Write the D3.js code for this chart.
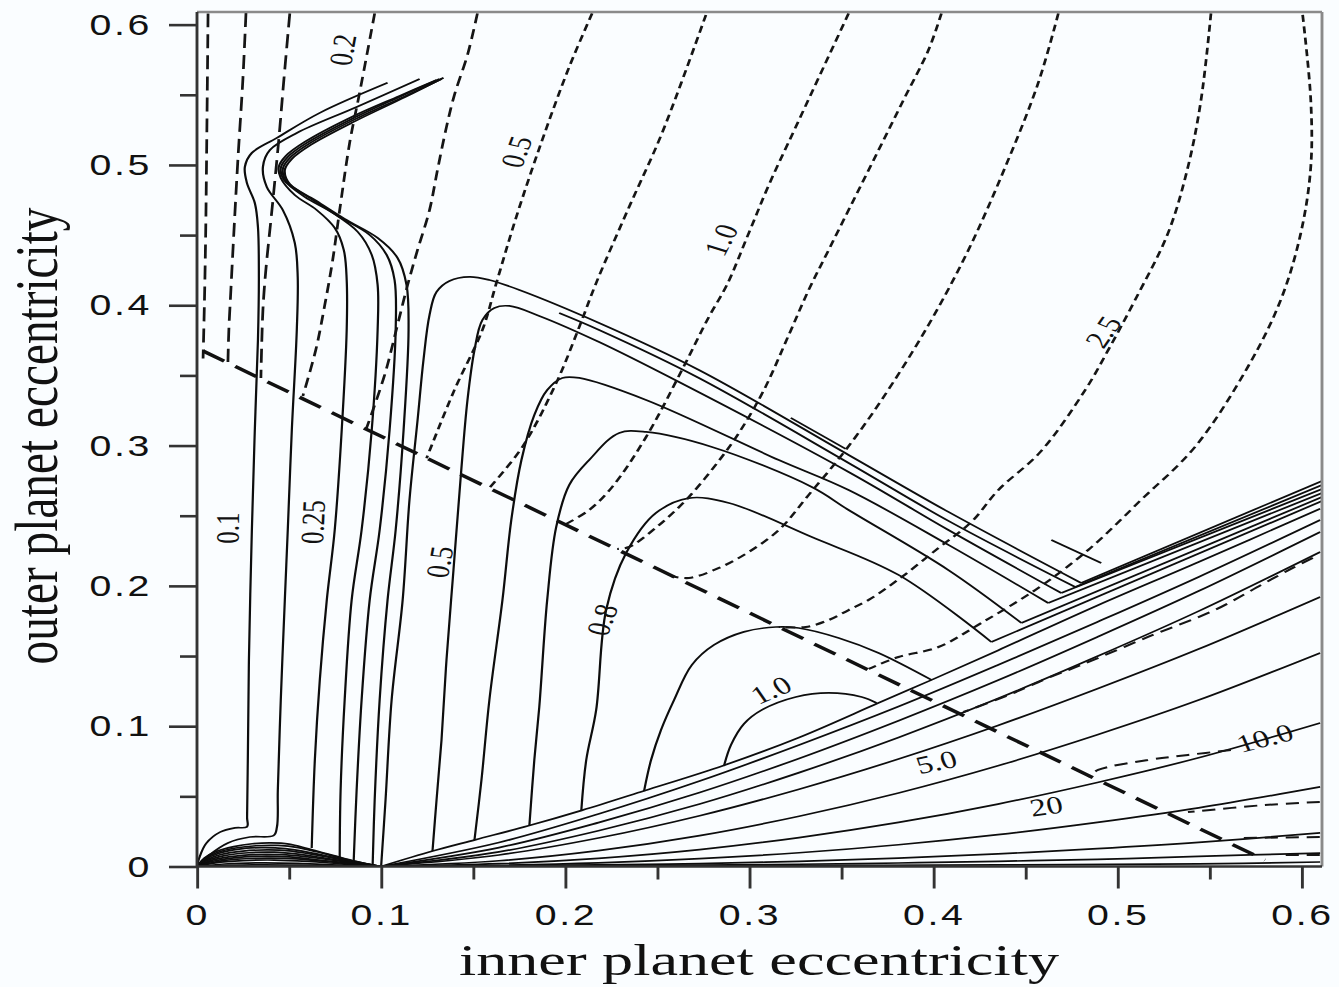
<!DOCTYPE html>
<html><head><meta charset="utf-8">
<script src="https://cdn.jsdelivr.net/npm/d3@7"></script>
<style>html,body{margin:0;padding:0;background:#fafdff;} svg{display:block;}</style>
</head><body><svg id="chart" width="1339" height="987"></svg>
<script>
// ---- axes ----
const xDomain = [0, 0.611];
const yDomain = [0, 0.609];
const xTicks = [0, 0.1, 0.2, 0.3, 0.4, 0.5, 0.6];
const xTickLabels = ["0", "0.1", "0.2", "0.3", "0.4", "0.5", "0.6"];
const xMinorTicks = [0.05, 0.15, 0.25, 0.35, 0.45, 0.55];
const yTicks = [0, 0.1, 0.2, 0.3, 0.4, 0.5, 0.6];
const yTickLabels = ["0", "0.1", "0.2", "0.3", "0.4", "0.5", "0.6"];
const yMinorTicks = [0.05, 0.15, 0.25, 0.35, 0.45, 0.55];
const xTitle = "inner planet eccentricity";
const yTitle = "outer planet eccentricity";

// ---- solid contours: hairpin family (left of e_in = 0.1) ----
const hairpinLines = [
  [[0.1035,0.5585],[0.0667,0.5371],[0.0434,0.5193],[0.0298,0.5086],[0.026,0.4986],[0.0271,0.4872],[0.0314,0.4729],[0.0331,0.4558],[0.0336,0.4202],[0.0331,0.3753],[0.0314,0.3111],[0.0298,0.2398],[0.0282,0.1472],[0.0276,0.0759],[0.0272,0.035],[0.0271,0.0282],[0.0206,0.0275],[0.0125,0.0245],[0.005,0.0165],[0.0012,0.006],[0,0]],
  [[0.1209,0.5613],[0.0867,0.5413],[0.0542,0.5228],[0.0396,0.5107],[0.0358,0.4986],[0.0379,0.4843],[0.0466,0.4679],[0.0531,0.4445],[0.0547,0.4202],[0.0542,0.3824],[0.0515,0.3111],[0.0493,0.2398],[0.0477,0.19],[0.0455,0.1187],[0.0439,0.0545],[0.0434,0.028],[0.0415,0.022],[0.0287,0.021],[0.0168,0.0168],[0.006,0.0075],[0,0]],
  [[0.1301,0.5606],[0.11,0.5492],[0.0829,0.5335],[0.0585,0.5164],[0.0482,0.5064],[0.0444,0.4986],[0.0455,0.4907],[0.0531,0.4786],[0.065,0.4679],[0.0748,0.4551],[0.0797,0.4395],[0.0813,0.418],[0.0813,0.3824],[0.0786,0.3111],[0.0748,0.2398],[0.0705,0.19],[0.0667,0.133],[0.064,0.0759],[0.0623,0.0132]],
  [[0.1317,0.5613],[0.1111,0.5492],[0.084,0.5328],[0.0596,0.5157],[0.0493,0.5057],[0.0455,0.4979],[0.0472,0.4893],[0.0585,0.4772],[0.0737,0.4658],[0.0873,0.4523],[0.0949,0.4359],[0.0981,0.4145],[0.0981,0.3824],[0.0949,0.3111],[0.0894,0.2398],[0.084,0.19],[0.0802,0.1187],[0.078,0.0545],[0.0775,0.0061]],
  [[0.1328,0.5613],[0.1122,0.5485],[0.0851,0.5321],[0.0607,0.515],[0.0504,0.505],[0.0466,0.4972],[0.0488,0.4879],[0.0612,0.4765],[0.0775,0.4629],[0.0938,0.4501],[0.103,0.4359],[0.1073,0.418],[0.1079,0.3824],[0.1046,0.3111],[0.0992,0.2398],[0.0938,0.19],[0.0894,0.1187],[0.0867,0.0545],[0.0851,0.0039]],
  [[0.1339,0.5621],[0.1133,0.5485],[0.0862,0.5314],[0.0618,0.5143],[0.0515,0.5043],[0.0477,0.4964],[0.0504,0.4864],[0.064,0.475],[0.0802,0.4615],[0.0981,0.448],[0.1089,0.4338],[0.1138,0.4145],[0.1149,0.3824],[0.1122,0.3111],[0.1079,0.2398],[0.1035,0.19],[0.0992,0.1187],[0.0965,0.0474],[0.0954,0.0011]]
];

// ---- solid contours: low bumps between the origin and e_in = 0.1 ----
const bumpLines = [
  [[0,0],[0.004,0.006],[0.01,0.0105],[0.02,0.0142],[0.03,0.0162],[0.04,0.0168],[0.05,0.016],[0.06,0.0128],[0.07,0.0092],[0.08,0.0057],[0.09,0.0024],[0.1,0]],
  [[0,0],[0.0045,0.0058],[0.011,0.01],[0.021,0.0132],[0.032,0.0148],[0.044,0.015],[0.055,0.0135],[0.065,0.0105],[0.075,0.0072],[0.085,0.0039],[0.1,0]],
  [[0,0],[0.005,0.0055],[0.012,0.0095],[0.022,0.0122],[0.035,0.0135],[0.048,0.0128],[0.06,0.0103],[0.07,0.0077],[0.08,0.0048],[0.09,0.002],[0.1,0]],
  [[0,0],[0.0055,0.005],[0.013,0.0086],[0.025,0.011],[0.038,0.0118],[0.05,0.0112],[0.062,0.0088],[0.074,0.006],[0.086,0.0032],[0.1,0]],
  [[0,0],[0.006,0.0045],[0.015,0.0078],[0.028,0.0098],[0.042,0.0102],[0.055,0.0088],[0.068,0.0063],[0.08,0.0038],[0.09,0.0017],[0.1,0]],
  [[0,0],[0.007,0.004],[0.018,0.007],[0.032,0.0085],[0.046,0.0084],[0.06,0.0068],[0.074,0.0045],[0.088,0.002],[0.1,0]],
  [[0,0],[0.008,0.0036],[0.02,0.0062],[0.035,0.0073],[0.05,0.0068],[0.065,0.0048],[0.08,0.0027],[0.1,0]],
  [[0,0],[0.009,0.003],[0.022,0.0052],[0.038,0.006],[0.054,0.0055],[0.07,0.0036],[0.086,0.0015],[0.1,0]],
  [[0,0],[0.01,0.0026],[0.025,0.0042],[0.042,0.0046],[0.06,0.0036],[0.08,0.0017],[0.1,0]],
  [[0,0],[0.015,0.0018],[0.035,0.0026],[0.055,0.0022],[0.08,0.0009],[0.1,0]],
  [[0,0],[0.03,0.0011],[0.06,0.0009],[0.1,0]]
];

// ---- solid contours: arches right of e_in = 0.1 (each ends where it meets the rising band) ----
const archLines = [
  [[0.1,0],[0.1024,0.0474],[0.1057,0.1187],[0.1117,0.19],[0.1154,0.2612],[0.1198,0.3182],[0.123,0.361],[0.1263,0.3931],[0.1301,0.4095],[0.1371,0.4173],[0.148,0.4202],[0.1588,0.418],[0.1751,0.4109],[0.2184,0.3874],[0.2726,0.3539],[0.3539,0.2933],[0.4081,0.2527],[0.4802,0.2021]],
  [[0.1967,0.3945],[0.2184,0.3824],[0.2726,0.3482],[0.3539,0.2876],[0.4081,0.2463],[0.477,0.1992]],
  [[0.1279,0.011],[0.1301,0.0474],[0.1328,0.0902],[0.1355,0.1472],[0.1393,0.2113],[0.1431,0.2755],[0.1469,0.3325],[0.1507,0.3681],[0.155,0.3895],[0.1615,0.3981],[0.1696,0.3995],[0.1859,0.3924],[0.2184,0.3738],[0.2618,0.3453],[0.3539,0.2812],[0.4081,0.2398],[0.4694,0.1949]],
  [[0.1507,0.0189],[0.1545,0.0617],[0.1588,0.1187],[0.1659,0.19],[0.1707,0.247],[0.1762,0.2897],[0.1832,0.3218],[0.1902,0.3396],[0.1984,0.3482],[0.2076,0.3482],[0.2439,0.3325],[0.316,0.2897],[0.3539,0.2683],[0.4081,0.2292],[0.4623,0.1878]],
  [[0.1805,0.0289],[0.1832,0.0759],[0.1859,0.1137],[0.1902,0.19],[0.1951,0.242],[0.2022,0.272],[0.213,0.2897],[0.2293,0.309],[0.2439,0.3097],[0.2797,0.299],[0.3339,0.2705],[0.3539,0.2541],[0.4081,0.2113],[0.4477,0.1736]],
  [[0.2087,0.0396],[0.2114,0.0759],[0.2168,0.1116],[0.2222,0.1828],[0.2331,0.2235],[0.2493,0.252],[0.2672,0.2626],[0.2889,0.2591],[0.3339,0.2348],[0.381,0.2078],[0.4314,0.16]],
  [[0.2428,0.0538],[0.2466,0.0759],[0.252,0.0973],[0.2591,0.1187],[0.2688,0.1437],[0.2808,0.1579],[0.297,0.1672],[0.3144,0.1707],[0.3268,0.17],[0.3485,0.1629],[0.3702,0.1522],[0.3989,0.133]],
  [[0.2862,0.0716],[0.29,0.0866],[0.297,0.1016],[0.3068,0.1116],[0.3252,0.1208],[0.3431,0.1237],[0.361,0.1208],[0.3691,0.1165]]
];
// height at the right edge reached by each arch after it joins the band (null: merges into the band's lower edge)
const archBandEnds = [0.2748, 0.2719, 0.269, 0.2662, 0.2633, 0.2605, null, null];
const stubLines = [
  [[0.3225,0.3197],[0.3523,0.2976]],
  [[0.464,0.2327],[0.4911,0.2163]]
];

// ---- solid contours: fan from (0.1, 0) toward the right edge ----
const fanLines = [
  [[0.1,0],[0.128,0.011],[0.151,0.019],[0.18,0.029],[0.209,0.04],[0.243,0.054],[0.286,0.072],[0.327,0.092],[0.37,0.1165],[0.399,0.133],[0.435,0.154],[0.489,0.186],[0.544,0.217],[0.61,0.255]],
  [[0.1,0],[0.164,0.0171],[0.218,0.0374],[0.273,0.0609],[0.327,0.0866],[0.381,0.114],[0.435,0.1436],[0.489,0.1743],[0.544,0.2064],[0.61,0.247]],
  [[0.1,0],[0.164,0.0135],[0.218,0.0313],[0.273,0.0527],[0.327,0.077],[0.381,0.1039],[0.435,0.1327],[0.489,0.1636],[0.544,0.1963],[0.61,0.2384]],
  [[0.1,0],[0.164,0.0104],[0.218,0.0255],[0.273,0.0445],[0.327,0.0669],[0.381,0.092],[0.435,0.1197],[0.489,0.1498],[0.544,0.182],[0.61,0.2242]],
  [[0.1,0],[0.164,0.0082],[0.218,0.0203],[0.273,0.0362],[0.327,0.0551],[0.381,0.0766],[0.435,0.1005],[0.489,0.1267],[0.544,0.155],[0.61,0.1921]],
  [[0.1,0],[0.164,0.0041],[0.218,0.0113],[0.273,0.022],[0.327,0.0358],[0.381,0.0524],[0.435,0.0718],[0.489,0.0939],[0.544,0.1186],[0.61,0.1522]],
  [[0.1,0],[0.164,0.002],[0.218,0.0058],[0.273,0.012],[0.327,0.0206],[0.381,0.0314],[0.435,0.0445],[0.489,0.0599],[0.544,0.0775],[0.61,0.1023]],
  [[0.1,0],[0.164,0.0009],[0.218,0.0026],[0.273,0.0056],[0.327,0.0098],[0.381,0.0155],[0.435,0.0227],[0.489,0.0315],[0.544,0.0418],[0.61,0.0567]],
  [[0.1,0],[0.218,0.0011],[0.273,0.0021],[0.327,0.0037],[0.381,0.006],[0.435,0.009],[0.489,0.0127],[0.544,0.0172],[0.61,0.0239]],
  [[0.1,0],[0.273,0.001],[0.327,0.0016],[0.381,0.0025],[0.435,0.0037],[0.489,0.0051],[0.544,0.0072],[0.61,0.0096]],
  [[0.1,0],[0.327,0.0006],[0.435,0.0011],[0.544,0.0018],[0.61,0.0032]]
];

// ---- dashed contours (upper family, ending on the boundary) ----
const dashedLongLines = [
  [[0.006,0.608],[0.0054,0.53],[0.0047,0.45],[0.004,0.4],[0.0033,0.362]],
  [[0.0266,0.6083],[0.0249,0.5606],[0.0222,0.5036],[0.0201,0.4537],[0.0184,0.4109],[0.0173,0.3824],[0.0168,0.3596]],
  [[0.0504,0.608],[0.0472,0.561],[0.0444,0.5178],[0.0407,0.4679],[0.0374,0.4252],[0.0358,0.3967],[0.0347,0.3482]]
];
const dashedMidLines = [
  [[0.0965,0.608],[0.0883,0.5513],[0.0829,0.5157],[0.0775,0.4679],[0.0737,0.4323],[0.0694,0.4002],[0.0645,0.3681],[0.0575,0.3354]],
  [[0.1523,0.608],[0.1469,0.5784],[0.1398,0.5499],[0.1355,0.5271],[0.1306,0.4964],[0.1263,0.4679],[0.1198,0.4395],[0.1144,0.4145],[0.1089,0.386],[0.1019,0.3503],[0.0921,0.3125]]
];
const dashedShortLines = [
  [[0.2146,0.608],[0.2022,0.57],[0.1875,0.5178],[0.1734,0.4629],[0.1626,0.4159],[0.155,0.3824],[0.1398,0.3396],[0.1247,0.291]],
  [[0.2764,0.6069],[0.2526,0.5228],[0.2347,0.4701],[0.2168,0.4159],[0.2076,0.3845],[0.1951,0.3446],[0.1767,0.299],[0.1588,0.2698]],
  [[0.3539,0.608],[0.3252,0.5271],[0.3106,0.4858],[0.2997,0.4515],[0.2878,0.4145],[0.278,0.3917],[0.2634,0.3539],[0.2439,0.3061],[0.2255,0.2705],[0.213,0.2541],[0.2,0.2438]],
  [[0.4043,0.608],[0.3973,0.582],[0.3837,0.5463],[0.3702,0.5107],[0.3566,0.475],[0.3431,0.4395],[0.3322,0.4109],[0.3214,0.3788],[0.3079,0.3396],[0.2943,0.309],[0.2808,0.2847],[0.2656,0.2612],[0.251,0.2434],[0.2347,0.2277],[0.2282,0.2263]],
  [[0.4678,0.608],[0.4569,0.5585],[0.439,0.4986],[0.419,0.4395],[0.3973,0.386],[0.3718,0.3325],[0.3523,0.2968],[0.3322,0.2648],[0.316,0.2398],[0.2997,0.2242],[0.2835,0.2128],[0.2672,0.2056],[0.2575,0.207]],
  [[0.5507,0.608],[0.5453,0.5463],[0.5382,0.4986],[0.5274,0.4515],[0.5095,0.4038],[0.4949,0.3681],[0.4824,0.3396],[0.458,0.2954],[0.4352,0.2683],[0.4206,0.2456],[0.4027,0.227],[0.3827,0.2063],[0.3648,0.19],[0.3539,0.1828],[0.3431,0.1757],[0.3306,0.1707],[0.316,0.1707]],
  [[0.6005,0.6069],[0.6049,0.5463],[0.6049,0.4986],[0.5995,0.4515],[0.5886,0.4038],[0.5707,0.356],[0.542,0.299],[0.5127,0.2612],[0.484,0.2256],[0.4553,0.1971],[0.426,0.1736],[0.4027,0.1564],[0.381,0.1493],[0.3648,0.1408]]
];
// ---- dashed contours (lower right, below the boundary) ----
const dashedLowerLines = [
  [[0.606,0.2199],[0.5962,0.2135],[0.5799,0.2021],[0.5528,0.1828],[0.5165,0.1636],[0.4802,0.1436],[0.4623,0.1344],[0.4407,0.1222],[0.4163,0.1101]],
  [[0.5615,0.083],[0.5382,0.0795],[0.5165,0.0759],[0.4894,0.0688],[0.484,0.0638]],
  [[0.6098,0.046],[0.5799,0.0438],[0.5382,0.0388]],
  [[0.6098,0.021],[0.5653,0.0203]],
  [[0.6098,0.0082],[0.5908,0.0082]]
];
// ---- boundary (heavy long dashes) ----
const boundaryLine = [[0.0033,0.3674],[0.58,0.0046]];

// ---- contour labels ----
const contourLabels = [
  {text:"0.2",  x:0.0791, y:0.582,  angle:-82},
  {text:"0.5",  x:0.1734, y:0.5093, angle:-74},
  {text:"1.0",  x:0.2846, y:0.4465, angle:-68},
  {text:"2.5",  x:0.4921, y:0.381,  angle:-62},
  {text:"0.1",  x:0.0168, y:0.2412, angle:-90},
  {text:"0.25", x:0.0629, y:0.2455, angle:-88},
  {text:"0.5",  x:0.1317, y:0.217,  angle:-82},
  {text:"0.8",  x:0.22,   y:0.1757, angle:-74},
  {text:"1.0",  x:0.3117, y:0.1258, angle:-28},
  {text:"5.0",  x:0.4016, y:0.0745, angle:-15},
  {text:"20",   x:0.4612, y:0.0431, angle:-10},
  {text:"10.0", x:0.5799, y:0.0916, angle:-18}
];

// ---- drawing ----
const W = 1339, H = 987;
const SX = 1.31; // the figure is drawn in a horizontally widened frame
const svg = d3.select('#chart');
svg.append('rect').attr('width', W).attr('height', H).attr('fill', '#fafdff');
const g = svg.append('g').attr('transform', `scale(${SX},1)`);

const x = d3.scaleLinear().domain(xDomain).range([197 / SX, 1322 / SX]);
const y = d3.scaleLinear().domain(yDomain).range([866.5, 12]);

g.append('clipPath').attr('id', 'plotClip').append('rect')
  .attr('x', x(0)).attr('y', y(yDomain[1]))
  .attr('width', x(xDomain[1]) - x(0)).attr('height', y(0) - y(yDomain[1]));

const plot = g.append('g').attr('clip-path', 'url(#plotClip)');
const lineGen = d3.line().x(d => x(d[0])).y(d => y(d[1])).curve(d3.curveCatmullRom.alpha(0.5));
const straight = d3.line().x(d => x(d[0])).y(d => y(d[1]));

function drawSet(data, gen, stroke, width, dash) {
  plot.append('g').selectAll('path').data(data).join('path')
    .attr('d', gen).attr('fill', 'none').attr('stroke', stroke)
    .attr('stroke-width', width).attr('stroke-linejoin', 'round')
    .attr('stroke-dasharray', dash || null);
}

const ink = '#0d0d0d';
drawSet(bumpLines, lineGen, ink, 1.7);
drawSet(fanLines, lineGen, ink, 1.7);
drawSet(hairpinLines, lineGen, ink, 1.7);
drawSet(archLines, lineGen, ink, 1.7);
// straight runs of the arches along the band up to the right edge
const bandRuns = archLines
  .map((pts, i) => archBandEnds[i] == null ? null : [pts[pts.length - 1], [xDomain[1], archBandEnds[i]]])
  .filter(d => d);
drawSet(bandRuns, straight, ink, 1.7);
drawSet(stubLines, straight, ink, 1.7);
drawSet(dashedLongLines, lineGen, '#151515', 2.1, '14,7');
drawSet(dashedMidLines, lineGen, '#151515', 2.1, '10,6');
drawSet(dashedShortLines, lineGen, '#151515', 2.1, '7,4.5');
drawSet(dashedLowerLines, lineGen, '#151515', 2.0, '10,6');
drawSet([boundaryLine], straight, '#111', 3.3, '19,10');

// contour labels
plot.append('g').selectAll('text').data(contourLabels).join('text')
  .attr('transform', d => `translate(${x(d.x)},${y(d.y)}) rotate(${d.angle})`)
  .attr('text-anchor', 'middle').attr('dominant-baseline', 'central')
  .attr('font-family', 'Liberation Serif, Times New Roman, serif')
  .attr('font-size', 25).attr('fill', '#111')
  .text(d => d.text);

// frame
g.append('line').attr('x1', x(0)).attr('x2', x(xDomain[1])).attr('y1', y(yDomain[1])).attr('y2', y(yDomain[1]))
  .attr('stroke', '#8a8a8a').attr('stroke-width', 2.6);
g.append('line').attr('x1', x(xDomain[1])).attr('x2', x(xDomain[1])).attr('y1', y(yDomain[1])).attr('y2', y(0))
  .attr('stroke', '#8a8a8a').attr('stroke-width', 2.2);
g.append('line').attr('x1', x(0)).attr('x2', x(0)).attr('y1', y(yDomain[1])).attr('y2', y(0))
  .attr('stroke', '#333').attr('stroke-width', 2.2);
g.append('line').attr('x1', x(0)).attr('x2', x(xDomain[1])).attr('y1', y(0)).attr('y2', y(0))
  .attr('stroke', '#333').attr('stroke-width', 2.6);

// axes
const tickFont = 'Liberation Sans, Arial, Helvetica, sans-serif';
const gx = g.append('g').attr('transform', `translate(0,${y(0)})`)
  .call(d3.axisBottom(x).tickValues(xTicks).tickSize(22).tickFormat((d, i) => xTickLabels[i]));
gx.select('.domain').remove();
gx.selectAll('.tick line').attr('stroke', '#333').attr('stroke-width', 2.2);
gx.selectAll('.tick text').attr('y', 59).attr('dy', 0)
  .attr('font-family', tickFont).attr('font-size', 30).attr('letter-spacing', 2).attr('fill', '#111');

const gxm = g.append('g').attr('transform', `translate(0,${y(0)})`)
  .call(d3.axisBottom(x).tickValues(xMinorTicks).tickSize(13).tickFormat(''));
gxm.select('.domain').remove();
gxm.selectAll('.tick line').attr('stroke', '#333').attr('stroke-width', 2.2);

const gy = g.append('g').attr('transform', `translate(${x(0)},0)`)
  .call(d3.axisLeft(y).tickValues(yTicks).tickSize(28 / SX).tickFormat((d, i) => yTickLabels[i]));
gy.select('.domain').remove();
gy.selectAll('.tick line').attr('stroke', '#333').attr('stroke-width', 2.6);
gy.selectAll('.tick text').attr('x', (152 - 197) / SX)
  .attr('font-family', tickFont).attr('font-size', 30).attr('letter-spacing', 2).attr('fill', '#111');

const gym = g.append('g').attr('transform', `translate(${x(0)},0)`)
  .call(d3.axisLeft(y).tickValues(yMinorTicks).tickSize(17 / SX).tickFormat(''));
gym.select('.domain').remove();
gym.selectAll('.tick line').attr('stroke', '#333').attr('stroke-width', 2.6);

// axis titles
const titleFont = 'Liberation Serif, Times New Roman, serif';
g.append('text').attr('x', 759 / SX).attr('y', 975).attr('text-anchor', 'middle')
  .attr('font-family', titleFont).attr('font-size', 45)
  .attr('textLength', 600 / SX).attr('lengthAdjust', 'spacingAndGlyphs')
  .attr('fill', '#111').text(xTitle);
g.append('text').attr('transform', `translate(${57 / SX},436) rotate(-90)`).attr('text-anchor', 'middle')
  .attr('font-family', titleFont).attr('font-size', 46)
  .attr('textLength', 457).attr('lengthAdjust', 'spacingAndGlyphs')
  .attr('fill', '#111').text(yTitle);
</script></body></html>
